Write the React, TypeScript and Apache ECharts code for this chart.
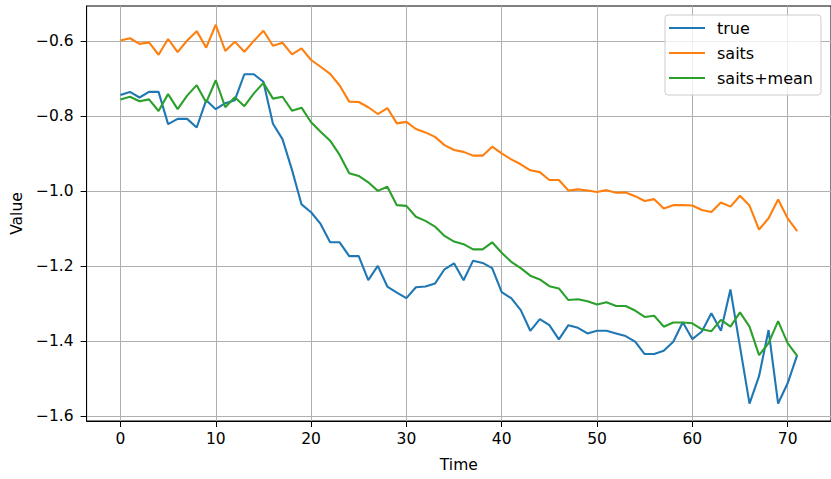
import React, { useEffect, useRef } from "react";
import * as echarts from "echarts";

const timeSteps: number[] = Array.from({ length: 72 }, (_, i) => i);

const trueValues: number[] = [
  -0.743, -0.735, -0.750, -0.735, -0.735, -0.821, -0.807, -0.807, -0.830, -0.757,
  -0.781, -0.765, -0.757, -0.688, -0.688, -0.708, -0.820, -0.861, -0.943, -1.035,
  -1.056, -1.087, -1.136, -1.136, -1.173, -1.173, -1.237, -1.199, -1.254, -1.270,
  -1.285, -1.256, -1.254, -1.246, -1.208, -1.192, -1.237, -1.185, -1.191, -1.205,
  -1.269, -1.285, -1.317, -1.372, -1.341, -1.357, -1.395, -1.357, -1.364, -1.379,
  -1.372, -1.372, -1.379, -1.386, -1.401, -1.434, -1.434, -1.425, -1.401, -1.349,
  -1.394, -1.374, -1.325, -1.372, -1.262, -1.414, -1.566, -1.493, -1.370, -1.566,
  -1.512, -1.437,
];

const saitsValues: number[] = [
  -0.598, -0.592, -0.607, -0.603, -0.636, -0.594, -0.629, -0.598, -0.573, -0.617,
  -0.556, -0.626, -0.601, -0.628, -0.599, -0.572, -0.612, -0.604, -0.635, -0.619,
  -0.650, -0.668, -0.687, -0.718, -0.761, -0.762, -0.776, -0.794, -0.778, -0.819,
  -0.815, -0.834, -0.843, -0.855, -0.877, -0.890, -0.895, -0.905, -0.905, -0.881,
  -0.899, -0.915, -0.928, -0.944, -0.949, -0.970, -0.970, -0.998, -0.995, -0.998,
  -1.002, -0.997, -1.004, -1.003, -1.013, -1.026, -1.021, -1.046, -1.037, -1.037,
  -1.038, -1.050, -1.055, -1.030, -1.041, -1.012, -1.038, -1.102, -1.072, -1.022,
  -1.072, -1.106,
];

const saitsMeanValues: number[] = [
  -0.755, -0.748, -0.760, -0.755, -0.786, -0.741, -0.781, -0.745, -0.717, -0.763,
  -0.704, -0.776, -0.749, -0.773, -0.739, -0.711, -0.753, -0.748, -0.785, -0.777,
  -0.816, -0.841, -0.865, -0.903, -0.952, -0.959, -0.976, -0.999, -0.988, -1.037,
  -1.039, -1.068, -1.079, -1.094, -1.119, -1.134, -1.141, -1.155, -1.155, -1.136,
  -1.164, -1.188, -1.205, -1.225, -1.235, -1.253, -1.259, -1.290, -1.288, -1.293,
  -1.302, -1.296, -1.306, -1.306, -1.318, -1.335, -1.332, -1.361, -1.350, -1.350,
  -1.352, -1.368, -1.373, -1.343, -1.361, -1.323, -1.361, -1.437, -1.405, -1.346,
  -1.405, -1.439,
];

const xTicks: number[] = [0, 10, 20, 30, 40, 50, 60, 70];
const yTicks: number[] = [-1.6, -1.4, -1.2, -1.0, -0.8, -0.6];

const seriesNames: string[] = ["true", "saits", "saits+mean"];
const seriesColors: string[] = ["#1f77b4", "#ff7f0e", "#2ca02c"];

const FONT = "DejaVu Sans";

export default function App() {
  const ref = useRef<HTMLDivElement>(null);

  useEffect(() => {
    if (!ref.current) return;
    const chart = echarts.init(ref.current, null, { renderer: "svg" });
    const allSeries = [trueValues, saitsValues, saitsMeanValues];
    chart.setOption({
      animation: false,
      backgroundColor: "#ffffff",
      grid: {
        left: 86.6,
        right: -1,
        top: 6,
        bottom: 58,
        show: true,
        borderColor: "#000000",
        borderWidth: 1,
        backgroundColor: "transparent",
        containLabel: false,
      },
      legend: {
        data: seriesNames,
        orient: "vertical",
        left: 665,
        top: 15,
        icon: "rect",
        itemWidth: 36,
        itemHeight: 2,
        itemGap: 9,
        padding: [5, 8, 9, 4],
        borderColor: "#cccccc",
        borderWidth: 1,
        borderRadius: 3,
        backgroundColor: "rgba(255,255,255,0.8)",
        textStyle: {
          fontFamily: FONT,
          fontSize: 16,
          color: "#000000",
          padding: [0, 0, 0, 7],
        },
      },
      xAxis: {
        type: "value",
        min: -3.55,
        max: 74.55,
        name: "Time",
        nameLocation: "middle",
        nameGap: 36,
        nameTextStyle: { fontFamily: FONT, fontSize: 15.5, color: "#000000" },
        axisLine: { show: true, onZero: false, lineStyle: { color: "#000000", width: 1 } },
        axisTick: {
          show: true,
          inside: false,
          length: 6,
          customValues: xTicks,
          lineStyle: { color: "#000000", width: 1 },
        },
        axisLabel: {
          customValues: xTicks,
          fontFamily: FONT,
          fontSize: 15.5,
          color: "#000000",
          margin: 10,
          formatter: (v: number) => String(v),
        },
        splitLine: { show: true, lineStyle: { color: "#b0b0b0", width: 1 } },
      },
      yAxis: {
        type: "value",
        min: -1.6125,
        max: -0.506,
        name: "Value",
        nameLocation: "middle",
        nameRotate: 90,
        nameGap: 62,
        nameTextStyle: { fontFamily: FONT, fontSize: 15.5, color: "#000000" },
        axisLine: { show: true, onZero: false, lineStyle: { color: "#000000", width: 1 } },
        axisTick: {
          show: true,
          inside: false,
          length: 6,
          customValues: yTicks,
          lineStyle: { color: "#000000", width: 1 },
        },
        axisLabel: {
          customValues: yTicks,
          fontFamily: FONT,
          fontSize: 15.5,
          color: "#000000",
          margin: 13,
          formatter: (v: number) => v.toFixed(1).replace("-", "\u2212"),
        },
        splitLine: { show: true, lineStyle: { color: "#b0b0b0", width: 1 } },
      },
      series: allSeries.map((vals, k) => ({
        name: seriesNames[k],
        type: "line",
        data: timeSteps.map((t, i) => [t, vals[i]]),
        showSymbol: false,
        symbol: "none",
        color: seriesColors[k],
        lineStyle: { color: seriesColors[k], width: 2.1 },
        emphasis: { disabled: true },
      })),
    });
    return () => chart.dispose();
  }, []);

  return (
    <div
      ref={ref}
      style={{ position: "absolute", left: 0, top: 0, width: 831, height: 479 }}
    />
  );
}
